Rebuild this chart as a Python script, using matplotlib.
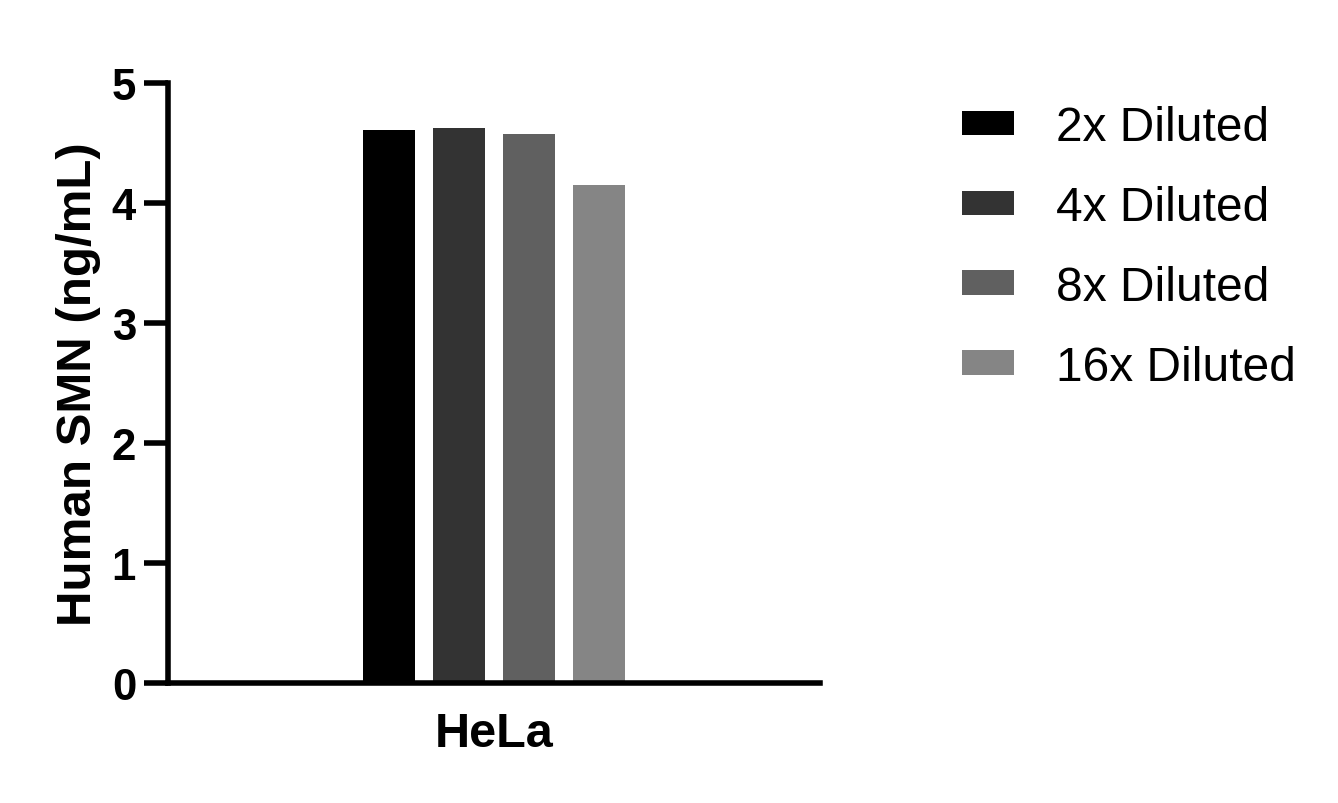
import matplotlib
matplotlib.use("Agg")
import matplotlib.pyplot as plt
from matplotlib.patches import Patch

categories = ["HeLa"]
series = ["2x Diluted", "4x Diluted", "8x Diluted", "16x Diluted"]
values = [4.61, 4.625, 4.575, 4.15]
colors = ["#000000", "#333333", "#606060", "#858585"]
yticks = [0, 1, 2, 3, 4, 5]

plt.rcParams['font.family'] = ['Liberation Sans', 'DejaVu Sans']

fig = plt.figure(figsize=(13.38, 8.04), dpi=100)
ax = fig.add_axes([168/1338, 1-684/804, (820-168)/1338, 600/804])

lw = 4.0
positions = [0, 1, 2, 3]
for p, v, c, s in zip(positions, values, colors, series):
    ax.bar(p, v, width=0.743, color=c, label=s, linewidth=0)

ax.set_xlim(1.5 - 4.664, 1.5 + 4.664)
ax.set_ylim(0, 5)
ax.set_yticks(yticks)
ax.set_yticklabels([str(t) for t in yticks], fontsize=31.5, fontweight='bold')
ax.set_xticks([1.5])
ax.set_xticklabels(categories, fontsize=35, fontweight='bold')
ax.tick_params(axis='x', length=0, pad=20)
ax.tick_params(axis='y', length=17, width=lw, pad=6)
ax.set_ylabel("Human SMN (ng/mL)", fontsize=35.5, fontweight='bold', labelpad=8)

for side in ['top', 'right']:
    ax.spines[side].set_visible(False)
for side in ['left', 'bottom']:
    ax.spines[side].set_linewidth(lw)
    ax.spines[side].set_capstyle('projecting')

handles = [Patch(facecolor=c, edgecolor='none') for c in colors]
fs = 34.5
fpx = fs * 100 / 72
fig.legend(handles, series, loc='upper left', bbox_to_anchor=(962/1338, 1-106/804),
           frameon=False, fontsize=fs, handlelength=52/fpx, handleheight=20/fpx,
           handletextpad=42/fpx, labelspacing=0.73, borderaxespad=0, borderpad=0)

fig.savefig("out.png", dpi=100)
